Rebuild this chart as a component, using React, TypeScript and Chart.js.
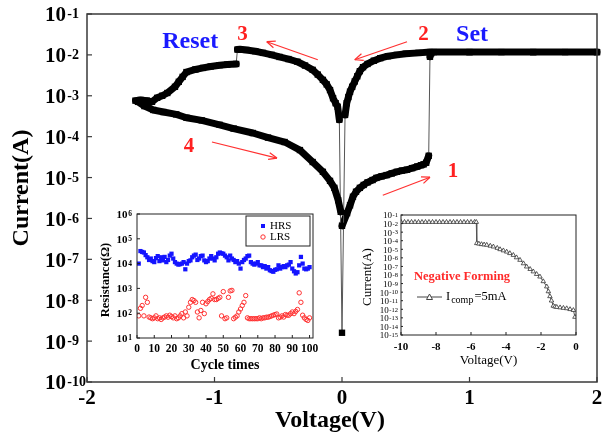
import React, { useEffect, useRef } from 'react';
import { Chart, registerables } from 'chart.js';
Chart.register(...registerables);

const SERIF = "'Liberation Serif', 'Times New Roman', serif";

// ---------------- Main I-V data ----------------
const setHrsV = [0.0, 0.04, 0.063, 0.086, 0.11, 0.14, 0.17, 0.2, 0.24, 0.27, 0.31, 0.35, 0.39, 0.43, 0.47, 0.51, 0.55, 0.59, 0.62, 0.64, 0.66, 0.68];
const setHrsI = [6.6e-7, 1.35e-6, 2.1e-6, 3.4e-6, 4.5e-6, 5.6e-6, 6.6e-6, 7.6e-6, 8.7e-6, 9.8e-6, 1.07e-5, 1.15e-5, 1.26e-5, 1.38e-5, 1.48e-5, 1.55e-5, 1.7e-5, 1.86e-5, 2.0e-5, 2.1e-5, 2.3e-5, 3.4e-5];
const plateauV = [0.69, 0.7, 0.72, 1.0, 1.25, 1.5, 1.75, 2.0];
const plateauI = [9.0e-3, 1.1e-2, 1.17e-2, 1.17e-2, 1.17e-2, 1.17e-2, 1.17e-2, 1.17e-2];
const lrsPosV = [2.0, 1.5, 1.0, 0.69, 0.6, 0.5, 0.43, 0.36, 0.3, 0.25, 0.2, 0.165, 0.14, 0.12, 0.1, 0.08, 0.063, 0.05, 0.037, 0.024];
const lrsPosI = [1.17e-2, 1.17e-2, 1.17e-2, 1.17e-2, 1.12e-2, 1.07e-2, 1.0e-2, 9.3e-3, 8.3e-3, 7.2e-3, 6.0e-3, 5.0e-3, 4.0e-3, 3.0e-3, 2.24e-3, 1.66e-3, 1.26e-3, 9.3e-4, 6.6e-4, 3.4e-4];
const zeroV = [0.0];
const zeroI = [1.6e-9];
const lrsNegV = [-0.021, -0.034, -0.05, -0.07, -0.094, -0.12, -0.15, -0.19, -0.23, -0.29, -0.35, -0.42, -0.49, -0.55, -0.62, -0.68, -0.75, -0.8, -0.82];
const lrsNegI = [2.6e-4, 5.4e-4, 6.6e-4, 8.7e-4, 1.38e-3, 1.9e-3, 2.45e-3, 3.3e-3, 4.3e-3, 5.5e-3, 6.8e-3, 7.9e-3, 8.9e-3, 1.0e-2, 1.12e-2, 1.23e-2, 1.32e-2, 1.38e-2, 1.35e-2];
const resetV = [-0.83, -0.9, -0.96, -1.03, -1.09, -1.15, -1.22, -1.25, -1.28, -1.31, -1.37, -1.41, -1.45, -1.49, -1.53, -1.58, -1.62];
const resetI = [6.0e-3, 5.8e-3, 5.6e-3, 5.2e-3, 4.8e-3, 4.4e-3, 3.8e-3, 2.9e-3, 2.2e-3, 1.66e-3, 1.17e-3, 1.0e-3, 8.9e-4, 7.1e-4, 7.6e-4, 7.9e-4, 7.6e-4];
const hrsNegV = [-1.6, -1.55, -1.48, -1.4, -1.3, -1.22, -1.1, -0.96, -0.85, -0.7, -0.58, -0.45, -0.33, -0.23, -0.15, -0.094, -0.06, -0.03, -0.01];
const hrsNegI = [7.1e-4, 5.6e-4, 4.5e-4, 4.0e-4, 3.5e-4, 2.9e-4, 2.5e-4, 1.95e-4, 1.58e-4, 1.23e-4, 9.5e-5, 7.4e-5, 4.7e-5, 2.4e-5, 1.38e-5, 8.3e-6, 5.6e-6, 2.8e-6, 1.45e-6];

const mainXTicks = [-2, -1, 0, 1, 2];
const mainXTickLabels = ['-2', '-1', '0', '1', '2'];
const mainYTicks = [1e-1, 1e-2, 1e-3, 1e-4, 1e-5, 1e-6, 1e-7, 1e-8, 1e-9, 1e-10];
const mainYTickExps = ['-1', '-2', '-3', '-4', '-5', '-6', '-7', '-8', '-9', '-10'];

// arrows (voltage, current) and labels
const arrowFromV = [0.32, 0.51, -0.19, -1.02];
const arrowFromI = [3.7e-6, 2.1e-2, 7.6e-3, 7.4e-5];
const arrowToV = [0.69, 0.1, -0.59, -0.51];
const arrowToI = [1.02e-5, 7.6e-3, 2.1e-2, 3.0e-5];
const stepLabels = ['1', '2', '3', '4'];
const stepLabelV = [0.87, 0.64, -0.78, -1.2];
const stepLabelI = [1.38e-5, 3.1e-2, 3.1e-2, 5.6e-5];
const modeLabels = ['Reset', 'Set'];
const modeLabelV = [-1.19, 1.02];
const modeLabelI = [2.1e-2, 3.1e-2];

// ---------------- Inset 1: endurance ----------------
const cycles = Array.from({ length: 100 }, (_, k) => k + 1);
const hrsOhm = [
  1.0e4, 3.2e4, 2.95e4, 2.8e4, 2.2e4, 1.8e4, 1.4e4, 1.6e4, 1.26e4, 1.15e4,
  1.66e4, 2.0e4, 1.26e4, 1.8e4, 1.35e4, 1.86e4, 1.15e4, 1.4e4, 2.1e4, 2.5e4,
  1.6e4, 1.15e4, 1.0e4, 9.1e3, 9.5e3, 1.0e4, 1.15e4, 5.9e3, 1.0e4, 1.26e4,
  1.35e4, 1.8e4, 2.1e4, 2.3e4, 1.4e4, 1.6e4, 2.0e4, 2.1e4, 1.35e4, 1.15e4,
  1.26e4, 1.6e4, 2.0e4, 1.6e4, 1.35e4, 1.8e4, 2.5e4, 2.8e4, 2.6e4, 2.5e4,
  2.1e4, 1.8e4, 1.35e4, 2.1e4, 1.6e4, 1.4e4, 1.15e4, 1.26e4, 1.0e4, 6.3e3,
  1.15e4, 1.4e4, 1.6e4, 2.0e4, 2.1e4, 1.15e4, 1.0e4, 9.1e3, 1.0e4, 1.15e4,
  8.5e3, 8.5e3, 7.2e3, 7.9e3, 6.3e3, 7.2e3, 5.4e3, 5.0e3, 4.7e3, 5.6e3,
  5.9e3, 8.5e3, 6.3e3, 7.2e3, 7.9e3, 7.2e3, 8.5e3, 9.1e3, 1.15e4, 6.3e3,
  4.9e3, 4.0e3, 4.5e3, 8.5e3, 1.86e4, 1.0e4, 6.3e3, 5.9e3, 6.3e3, 7.2e3,
];
const lrsOhm = [
  78, 158, 204, 78, 437, 275, 70, 65, 60, 65,
  78, 60, 65, 56, 65, 70, 78, 69, 83, 73,
  65, 78, 60, 65, 78, 96, 65, 112, 78, 174,
  275, 355, 324, 275, 112, 65, 129, 275, 96, 240,
  295, 355, 398, 603, 355, 355, 398, 437, 78, 741,
  60, 65, 437, 794, 832, 60, 69, 78, 112, 148,
  204, 275, 513, 65, 60, 60, 60, 60, 60, 60,
  65, 60, 65, 65, 69, 69, 73, 78, 83, 88,
  93, 65, 69, 78, 70, 88, 83, 83, 96, 112,
  96, 118, 141, 661, 275, 83, 65, 56, 51, 65,
];
const inset1XTicks = [0, 10, 20, 30, 40, 50, 60, 70, 80, 90, 100];
const inset1YTicks = [1e1, 1e2, 1e3, 1e4, 1e5, 1e6];
const inset1YTickExps = ['1', '2', '3', '4', '5', '6'];

// ---------------- Inset 2: negative forming ----------------
const formV = [
  -10.0, -9.8, -9.6, -9.4, -9.2, -9.0, -8.8, -8.6, -8.4, -8.2, -8.0, -7.8, -7.6, -7.4, -7.2, -7.0,
  -6.8, -6.6, -6.4, -6.2, -6.0, -5.8, -5.7, -5.67, -5.55, -5.4, -5.25, -5.1, -4.9, -4.72, -4.5,
  -4.34, -4.15, -3.96, -3.78, -3.58, -3.4, -3.2, -3.0, -2.82, -2.62, -2.44, -2.25, -2.06, -1.87,
  -1.67, -1.58, -1.49, -1.4, -1.3, -1.2, -1.1, -0.91, -0.72, -0.53, -0.34, -0.15, -0.06,
];
const formI = [
  1.5e-2, 1.5e-2, 1.5e-2, 1.5e-2, 1.5e-2, 1.5e-2, 1.5e-2, 1.5e-2, 1.5e-2, 1.5e-2, 1.5e-2, 1.5e-2, 1.5e-2, 1.5e-2, 1.5e-2, 1.5e-2,
  1.5e-2, 1.5e-2, 1.5e-2, 1.5e-2, 1.5e-2, 1.5e-2, 1.5e-2, 5.0e-5, 4.4e-5, 3.8e-5, 3.5e-5, 3.2e-5, 2.5e-5, 2.0e-5, 1.4e-5,
  9.8e-6, 7.1e-6, 5.1e-6, 3.4e-6, 2.1e-6, 1.1e-6, 5.6e-7, 2.2e-7, 9.3e-8, 4.8e-8, 2.5e-8, 1.26e-8, 6.3e-9, 1.8e-9,
  4.4e-10, 1.2e-10, 3.2e-11, 1.0e-11, 2.5e-12, 2.0e-12, 1.8e-12, 1.6e-12, 1.4e-12, 1.26e-12, 1.0e-12, 7.9e-13, 1.26e-13,
];
const inset2XTicks = [-10, -8, -6, -4, -2, 0];
const inset2YTicks = [1e-1, 1e-2, 1e-3, 1e-4, 1e-5, 1e-6, 1e-7, 1e-8, 1e-9, 1e-10, 1e-11, 1e-12, 1e-13, 1e-14, 1e-15];
const inset2YTickExps = ['-1', '-2', '-3', '-4', '-5', '-6', '-7', '-8', '-9', '-10', '-11', '-12', '-13', '-14', '-15'];

// ---------------- drawing helpers ----------------
type TO = { size: number; bold?: boolean; color?: string; align?: CanvasTextAlign; baseline?: CanvasTextBaseline; rot?: number; sx?: number };
function txt(ctx: CanvasRenderingContext2D, s: string, x: number, y: number, o: TO) {
  ctx.save();
  ctx.translate(x, y);
  if (o.rot) ctx.rotate(o.rot);
  if (o.sx) ctx.scale(o.sx, 1);
  ctx.font = `${o.bold ? 'bold ' : ''}${o.size}px ${SERIF}`;
  ctx.fillStyle = o.color || '#000';
  ctx.textAlign = o.align || 'center';
  ctx.textBaseline = o.baseline || 'middle';
  ctx.fillText(s, 0, 0);
  ctx.restore();
}
function textW(ctx: CanvasRenderingContext2D, s: string, size: number, bold: boolean) {
  ctx.save();
  ctx.font = `${bold ? 'bold ' : ''}${size}px ${SERIF}`;
  const w = ctx.measureText(s).width;
  ctx.restore();
  return w;
}
function pow10(ctx: CanvasRenderingContext2D, exp: string, x: number, y: number, size: number, sup: number, align: 'left' | 'right', bold: boolean, color = '#000') {
  const w1 = textW(ctx, '10', size, bold);
  const w2 = textW(ctx, exp, sup, bold);
  const gap = size * 0.06;
  const x0 = align === 'left' ? x : x - (w1 + gap + w2);
  txt(ctx, '10', x0, y, { size, bold, align: 'left', baseline: 'middle', color });
  txt(ctx, exp, x0 + w1 + gap, y - size * 0.34 + sup * 0.66, { size: sup, bold, align: 'left', baseline: 'alphabetic', color });
}
function seg(ctx: CanvasRenderingContext2D, x1: number, y1: number, x2: number, y2: number) {
  ctx.beginPath();
  ctx.moveTo(x1, y1);
  ctx.lineTo(x2, y2);
  ctx.stroke();
}

// ---------------- plugins ----------------
const mainDecor = {
  id: 'mainDecor',
  afterDraw(chart: any) {
    const { ctx, chartArea: a, scales } = chart;
    const x = scales.x, y = scales.y;
    ctx.save();
    ctx.strokeStyle = '#3a3a3a';
    ctx.lineWidth = 1.5;
    ctx.strokeRect(a.left, a.top, a.right - a.left, a.bottom - a.top);
    ctx.lineWidth = 1.2;
    mainYTicks.forEach((v, k) => {
      const py = y.getPixelForValue(v);
      seg(ctx, a.left, py, a.left + 5, py);
      pow10(ctx, mainYTickExps[k], a.left - 42, py + 2, 21, 14, 'left', true);
    });
    mainXTicks.forEach((v, k) => {
      const px = x.getPixelForValue(v);
      seg(ctx, px, a.bottom, px, a.bottom - 5);
      txt(ctx, mainXTickLabels[k], px, a.bottom + 17, { size: 21, bold: true });
    });
    txt(ctx, 'Voltage(V)', (a.left + a.right) / 2 - 12, a.bottom + 39, { size: 24, bold: true });
    txt(ctx, 'Current(A)', 22, (a.top + a.bottom) / 2 - 10, { size: 24, bold: true, rot: -Math.PI / 2 });
    // arrows
    ctx.strokeStyle = '#ff3030';
    ctx.lineWidth = 1.2;
    arrowFromV.forEach((_, k) => {
      const x1 = x.getPixelForValue(arrowFromV[k]), y1 = y.getPixelForValue(arrowFromI[k]);
      const x2 = x.getPixelForValue(arrowToV[k]), y2 = y.getPixelForValue(arrowToI[k]);
      seg(ctx, x1, y1, x2, y2);
      const ang = Math.atan2(y2 - y1, x2 - x1);
      const L = 9;
      seg(ctx, x2, y2, x2 - L * Math.cos(ang - 0.4), y2 - L * Math.sin(ang - 0.4));
      seg(ctx, x2, y2, x2 - L * Math.cos(ang + 0.4), y2 - L * Math.sin(ang + 0.4));
    });
    stepLabels.forEach((s, k) => {
      txt(ctx, s, x.getPixelForValue(stepLabelV[k]), y.getPixelForValue(stepLabelI[k]), { size: 21, bold: true, color: '#ff2020' });
    });
    modeLabels.forEach((s, k) => {
      txt(ctx, s, x.getPixelForValue(modeLabelV[k]), y.getPixelForValue(modeLabelI[k]), { size: 24, bold: true, color: '#1a1aff' });
    });
    ctx.restore();
  },
};

const inset1Decor = {
  id: 'inset1Decor',
  afterDraw(chart: any) {
    const { ctx, chartArea: a, scales } = chart;
    const x = scales.x, y = scales.y;
    ctx.save();
    ctx.strokeStyle = '#222';
    ctx.lineWidth = 1;
    ctx.strokeRect(a.left, a.top, a.right - a.left, a.bottom - a.top);
    inset1YTicks.forEach((v, k) => {
      const py = y.getPixelForValue(v);
      seg(ctx, a.left, py, a.left + 3, py);
      pow10(ctx, inset1YTickExps[k], a.left - 5, py + 1, 11, 7.5, 'right', true);
    });
    inset1XTicks.forEach((v) => {
      const px = x.getPixelForValue(v);
      seg(ctx, px, a.bottom, px, a.bottom - 3);
      txt(ctx, String(v), px, a.bottom + 11, { size: 11.5, bold: true });
    });
    txt(ctx, 'Cycle times', (a.left + a.right) / 2, a.bottom + 27, { size: 14, bold: true });
    txt(ctx, 'Resistance(\u03A9)', a.left - 31, (a.top + a.bottom) / 2 + 4, { size: 12.5, bold: true, rot: -Math.PI / 2 });
    // legend box
    const bx = a.right - 67, by = a.top + 2, bw = 64, bh = 30;
    ctx.fillStyle = '#fff';
    ctx.fillRect(bx, by, bw, bh);
    ctx.strokeStyle = '#222';
    ctx.lineWidth = 1;
    ctx.strokeRect(bx, by, bw, bh);
    const ds = chart.data.datasets;
    ctx.fillStyle = ds[0].pointBackgroundColor;
    ctx.fillRect(bx + 15, by + 8, 4, 4);
    txt(ctx, ds[0].label, bx + 24, by + 10, { size: 11, align: 'left' });
    ctx.strokeStyle = ds[1].pointBorderColor;
    ctx.beginPath();
    ctx.arc(bx + 17, by + 21, 2.2, 0, Math.PI * 2);
    ctx.stroke();
    txt(ctx, ds[1].label, bx + 24, by + 21, { size: 11, align: 'left' });
    ctx.restore();
  },
};

const inset2Decor = {
  id: 'inset2Decor',
  afterDraw(chart: any) {
    const { ctx, chartArea: a, scales } = chart;
    const x = scales.x, y = scales.y;
    ctx.save();
    ctx.strokeStyle = '#222';
    ctx.lineWidth = 1;
    ctx.strokeRect(a.left, a.top, a.right - a.left, a.bottom - a.top);
    inset2YTicks.forEach((v, k) => {
      const py = y.getPixelForValue(v);
      seg(ctx, a.left, py, a.left + 2, py);
      pow10(ctx, inset2YTickExps[k], a.left - 3, py + 1, 9, 6.5, 'right', false);
    });
    inset2XTicks.forEach((v) => {
      const px = x.getPixelForValue(v);
      seg(ctx, px, a.bottom, px, a.bottom - 3);
      txt(ctx, String(v), px, a.bottom + 12, { size: 11, bold: true });
    });
    txt(ctx, 'Voltage(V)', (a.left + a.right) / 2, a.bottom + 26, { size: 13 });
    txt(ctx, 'Current(A)', a.left - 33, (a.top + a.bottom) / 2 + 2, { size: 13, rot: -Math.PI / 2 });
    txt(ctx, 'Negative Forming', a.left + 61, a.top + 62, { size: 12.5, bold: true, color: '#ff2a2a' });
    // legend
    const ly = a.top + 82;
    ctx.strokeStyle = '#444';
    seg(ctx, a.left + 16, ly, a.left + 41, ly);
    ctx.fillStyle = '#fff';
    ctx.beginPath();
    ctx.moveTo(a.left + 28.5, ly - 3);
    ctx.lineTo(a.left + 31.5, ly + 2.5);
    ctx.lineTo(a.left + 25.5, ly + 2.5);
    ctx.closePath();
    ctx.fill();
    ctx.stroke();
    const tx = a.left + 45;
    txt(ctx, 'I', tx, ly, { size: 12.5, align: 'left' });
    const wI = textW(ctx, 'I', 12.5, false);
    txt(ctx, 'comp', tx + wI + 1, ly + 3, { size: 10, align: 'left' });
    const wc = textW(ctx, 'comp', 10, false);
    txt(ctx, '=5mA', tx + wI + 1 + wc + 1, ly, { size: 12.5, align: 'left' });
    ctx.restore();
  },
};

function buildMain() {
  const branches = [
    { v: setHrsV, i: setHrsI, thin: true },
    { v: plateauV, i: plateauI, thin: false },
    { v: lrsPosV, i: lrsPosI, thin: true },
    { v: zeroV, i: zeroI, thin: true },
    { v: lrsNegV, i: lrsNegI, thin: true },
    { v: resetV, i: resetI, thin: false },
    { v: hrsNegV, i: hrsNegI, thin: false },
  ];
  const pts: { x: number; y: number }[] = [];
  const thinAfter: boolean[] = [];
  branches.forEach((b) => {
    b.v.forEach((v, k) => {
      pts.push({ x: v, y: b.i[k] });
      thinAfter.push(k === b.v.length - 1 ? b.thin : false);
    });
  });
  return { pts, thinAfter };
}

export default function App() {
  const mainRef = useRef<HTMLCanvasElement>(null);
  const in1Ref = useRef<HTMLCanvasElement>(null);
  const in2Ref = useRef<HTMLCanvasElement>(null);

  useEffect(() => {
    document.body.style.margin = '0';
    const { pts, thinAfter } = buildMain();
    const main = new Chart(mainRef.current!, {
      type: 'scatter',
      data: {
        datasets: [
          {
            data: pts,
            showLine: true,
            borderColor: '#000',
            borderWidth: 7,
            borderJoinStyle: 'round',
            borderCapStyle: 'round',
            pointStyle: 'rect',
            pointRadius: 4.5,
            pointBackgroundColor: '#000',
            pointBorderWidth: 0,
            clip: false,
            segment: {
              borderWidth: (c: any) => (thinAfter[c.p0DataIndex] ? 1 : 7),
              borderColor: (c: any) => (thinAfter[c.p0DataIndex] ? '#555' : '#000'),
            },
          } as any,
        ],
      },
      options: {
        responsive: false,
        animation: false,
        events: [],
        layout: { padding: { left: 87, right: 11, top: 14, bottom: 57 } },
        scales: {
          x: { type: 'linear', min: -2, max: 2, display: false },
          y: { type: 'logarithmic', min: 1e-10, max: 1e-1, display: false },
        },
        plugins: { legend: { display: false }, tooltip: { enabled: false } },
      },
      plugins: [mainDecor],
    });

    const in1 = new Chart(in1Ref.current!, {
      type: 'scatter',
      data: {
        datasets: [
          {
            label: 'HRS',
            data: cycles.map((c, k) => ({ x: c, y: hrsOhm[k] })),
            pointStyle: 'rect',
            pointRadius: 3,
            pointBackgroundColor: '#1414ff',
            pointBorderColor: '#1414ff',
            pointBorderWidth: 0,
          } as any,
          {
            label: 'LRS',
            data: cycles.map((c, k) => ({ x: c, y: lrsOhm[k] })),
            pointStyle: 'circle',
            pointRadius: 2.2,
            pointBackgroundColor: 'rgba(0,0,0,0)',
            pointBorderColor: '#ff3030',
            pointBorderWidth: 1,
          } as any,
        ],
      },
      options: {
        responsive: false,
        animation: false,
        events: [],
        layout: { padding: { left: 42, right: 7, top: 14, bottom: 42 } },
        scales: {
          x: { type: 'linear', min: 0, max: 102, display: false },
          y: { type: 'logarithmic', min: 1e1, max: 1e6, display: false },
        },
        plugins: { legend: { display: false }, tooltip: { enabled: false } },
      },
      plugins: [inset1Decor],
    });

    const in2 = new Chart(in2Ref.current!, {
      type: 'scatter',
      data: {
        datasets: [
          {
            label: 'Icomp=5mA',
            data: formV.map((v, k) => ({ x: v, y: formI[k] })),
            showLine: true,
            borderColor: '#555',
            borderWidth: 1,
            pointStyle: 'triangle',
            pointRadius: 2.6,
            pointBackgroundColor: '#fff',
            pointBorderColor: '#333',
            pointBorderWidth: 0.8,
          } as any,
        ],
      },
      options: {
        responsive: false,
        animation: false,
        events: [],
        layout: { padding: { left: 46, right: 14, top: 15, bottom: 40 } },
        scales: {
          x: { type: 'linear', min: -10, max: 0, display: false },
          y: { type: 'logarithmic', min: 1e-15, max: 1e-1, display: false },
        },
        plugins: { legend: { display: false }, tooltip: { enabled: false } },
      },
      plugins: [inset2Decor],
    });

    return () => {
      main.destroy();
      in1.destroy();
      in2.destroy();
    };
  }, []);

  return (
    <div style={{ position: 'absolute', left: 0, top: 0, width: 608, height: 439, background: '#fff' }}>
      <canvas ref={mainRef} width={608} height={439} style={{ position: 'absolute', left: 0, top: 0, width: 608, height: 439 }} />
      <canvas ref={in1Ref} width={225} height={180} style={{ position: 'absolute', left: 95, top: 200, width: 225, height: 180 }} />
      <canvas ref={in2Ref} width={235} height={175} style={{ position: 'absolute', left: 355, top: 200, width: 235, height: 175 }} />
    </div>
  );
}
